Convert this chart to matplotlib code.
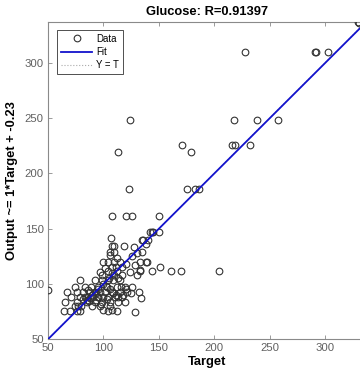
import matplotlib
matplotlib.use("Agg")
import matplotlib.pyplot as plt
import numpy as np

plt.rcParams['font.family'] = ['Liberation Sans', 'DejaVu Sans']

title = "Glucose: R=0.91397"
xlabel = "Target"
ylabel = "Output ~= 1*Target + -0.23"
fit_slope = 1.0
fit_intercept = -0.23
lim = [50, 337]
ticks = [50, 100, 150, 200, 250, 300]

target = [
    50, 124, 113.5, 171, 179, 216, 219, 232, 218, 239, 258,
    228, 291, 292, 303, 330, 331,
    123, 175, 183, 186,
    108, 120, 126, 150,
    142, 144, 145, 150,
    135, 136, 107,
    108, 119, 110,
    135, 106, 110,
    133, 139, 138,
    144, 161, 170, 204, 133, 151, 134,
    100, 104, 101, 107.5, 111, 116.5,
    97, 124, 128.5, 130, 133,
    79, 92, 98.5, 104, 109, 115,
    74, 83, 89, 95, 103, 112, 119.5, 125.5,
    67, 76, 82, 88, 92, 97, 101, 107.5, 115, 121, 132,
    71, 79, 83, 86, 91, 95, 100, 104, 110.5, 116.5,
    65, 76, 85, 92, 98.5, 106, 113, 119.5,
    74, 77, 80, 97, 106,
    64, 70, 76, 79, 104, 112, 128.5,
    85, 88, 90, 93, 95, 100, 102, 105, 108, 110, 112, 106, 109, 111, 113,
    103, 98, 95, 93, 87, 82, 90, 100, 108, 86, 120, 118, 116, 125, 113,
    117, 104, 99, 112, 115, 110, 106, 120, 126, 130, 140, 138, 128,
]
output = [
    94, 248, 219.5, 226, 219, 226, 226, 226, 248, 248, 248,
    310, 310, 310, 310, 337, 336,
    186, 186, 186, 186,
    161, 161, 161, 161,
    147, 147, 147, 147,
    140, 140, 141,
    134, 134, 134,
    129, 129, 129,
    120, 120, 120,
    112, 112, 112, 112, 112, 115.5, 87,
    120, 120, 114, 115.5, 115.5, 115.5,
    111, 111, 117, 108, 112.6,
    103.5, 103.5, 103.5, 103.5, 103.5, 103.5,
    97.4, 97.4, 97.4, 97.4, 97.4, 97.4, 97.4, 97.4,
    93, 93, 93, 93, 93, 93, 93, 93, 93, 93, 93,
    88.4, 88.4, 88.4, 88.4, 88.4, 88.4, 88.4, 88.4, 88.4, 88.4,
    83.8, 83.8, 83.8, 83.8, 83.8, 83.8, 83.8, 83.8,
    80, 80, 80, 80, 80,
    75.7, 75.7, 75.7, 75.7, 75.7, 75.7, 74,
    85, 87, 90, 92, 95, 100, 98, 105, 110, 108, 112, 95, 92, 90, 88,
    86, 82, 88, 85, 84, 86, 80, 76, 76, 94, 95, 90, 97, 92, 105,
    108, 112, 108, 123, 120, 120, 126, 118, 125, 128, 140, 136, 133,
]

fig = plt.figure(figsize=(3.6, 3.72), dpi=100)
ax = fig.add_axes([48/360, 33/372, 318/360, 317/372])

grey = '#8a8a8a'
ax.plot(target, output, linestyle='none', marker='o', markersize=4.8,
        markerfacecolor='none', markeredgecolor='#333333', markeredgewidth=0.8,
        label='Data', zorder=3)
xs = np.array(lim, dtype=float)
ax.plot(xs, fit_slope * xs + fit_intercept, color='#1212cc', lw=1.3,
        label='Fit', zorder=4)
ax.plot(xs, xs, color='#aaaaaa', lw=0.8, linestyle=':', label='Y = T', zorder=2)

ax.set_xlim(lim)
ax.set_ylim(lim)
ax.set_xticks(ticks)
ax.set_yticks(ticks)
ax.tick_params(direction='in', length=3, width=0.6, colors=grey,
               labelcolor='#606060', labelsize=8.2, top=True, right=True,
               pad=3)
for s in ax.spines.values():
    s.set_color(grey)
    s.set_linewidth(0.8)

ax.set_title(title, fontsize=9.3, fontweight='bold', pad=5)
ax.set_xlabel(xlabel, fontsize=9.3, fontweight='bold', labelpad=2)
ax.set_ylabel(ylabel, fontsize=9.3, fontweight='bold', labelpad=5)

leg = ax.legend(loc='upper left', bbox_to_anchor=(0.028, 0.975),
                borderaxespad=0, fontsize=6.9, handlelength=3.3,
                labelspacing=0.35, handletextpad=0.4, borderpad=0.4,
                fancybox=False, framealpha=1, edgecolor='#333333')
leg.get_frame().set_linewidth(0.6)

fig.savefig('out.png', dpi=100)
